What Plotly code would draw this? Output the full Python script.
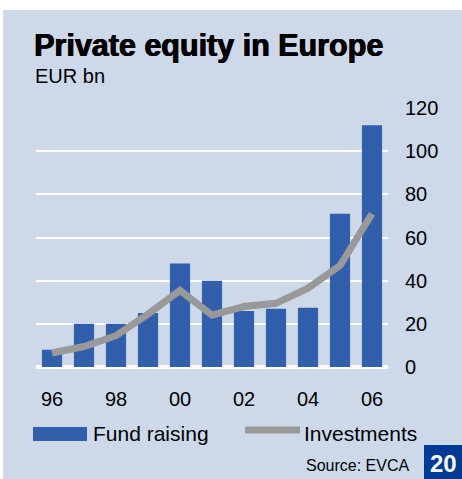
import plotly.graph_objects as go

# Data (EUR bn)
years = [1996, 1997, 1998, 1999, 2000, 2001, 2002, 2003, 2004, 2005, 2006]
fund_raising = [8, 20, 20, 25, 48, 40, 26, 27, 27.5, 71, 112]
investments = [6.5, 9.5, 14.5, 24.5, 35.5, 24, 28, 29.5, 36.5, 47, 71]
x_tickvals = [1996, 1998, 2000, 2002, 2004, 2006]
x_ticktext = ["96", "98", "00", "02", "04", "06"]
y_tickvals = [0, 20, 40, 60, 80, 100, 120]

W, H = 462, 479
L, R, T, B = 36, 388, 108, 367  # plot area in pixels

BG = "#CDD8E9"
BLUE = "#315FAB"
GREY = "#999999"
NAVY = "#003A94"
FONT = "Liberation Sans, Arial, sans-serif"


def px(x):
    return (x - L) / (R - L)


def py(y):
    return (B - y) / (B - T)


fig = go.Figure()
fig.add_trace(go.Bar(x=years, y=fund_raising, marker_color=BLUE,
                     marker_line_width=0, width=0.63, name="Fund raising"))
fig.add_trace(go.Scatter(x=years, y=investments, mode="lines",
                         line=dict(color=GREY, width=7), name="Investments"))

shapes = [
    # panel background
    dict(type="rect", xref="paper", yref="paper", layer="below",
         x0=px(3), x1=px(W), y0=py(10), y1=py(H),
         fillcolor=BG, line_width=0),
    # legend: bar swatch
    dict(type="rect", xref="paper", yref="paper",
         x0=px(33), x1=px(87), y0=py(427), y1=py(441),
         fillcolor=BLUE, line_width=0),
    # legend: line swatch
    dict(type="line", xref="paper", yref="paper",
         x0=px(245), x1=px(300), y0=py(430), y1=py(430),
         line=dict(color=GREY, width=7)),
    # page number box
    dict(type="rect", xref="paper", yref="paper",
         x0=px(424), x1=px(W), y0=py(445), y1=py(H),
         fillcolor=NAVY, line_width=0),
]

heavy = "0.7px 0 0 black, -0.3px 0 0 black"
annotations = [
    dict(text="<b>Private equity in Europe</b>", x=px(32), y=py(45),
         font=dict(size=30.5, color="black", family=FONT, shadow=heavy)),
    dict(text="EUR bn", x=px(33), y=py(76),
         font=dict(size=20, color="black", family=FONT)),
    dict(text="Fund raising", x=px(91), y=py(433),
         font=dict(size=21, color="black", family=FONT)),
    dict(text="Investments", x=px(302), y=py(433),
         font=dict(size=21, color="black", family=FONT)),
    dict(text="Source: EVCA", x=px(411), y=py(465), xanchor="right",
         font=dict(size=16, color="black", family=FONT)),
    dict(text="<b>20</b>", x=px(443), y=py(463), xanchor="center",
         font=dict(size=24, color="white", family=FONT)),
]
for a in annotations:
    a.setdefault("xanchor", "left")
    a.update(xref="paper", yref="paper", yanchor="middle",
             showarrow=False)

fig.update_layout(
    width=W, height=H,
    margin=dict(l=L, r=W - R, t=T, b=H - B, pad=0),
    paper_bgcolor="white", plot_bgcolor=BG,
    showlegend=False, bargap=0.37,
    shapes=shapes, annotations=annotations,
    font=dict(family=FONT, size=20, color="black"),
)
fig.update_xaxes(range=[1995.5, 2006.5], tickvals=x_tickvals,
                 ticktext=x_ticktext, showgrid=False, zeroline=False,
                 showline=False, ticks="", ticklabelstandoff=18,
                 tickfont=dict(size=20))
fig.update_yaxes(range=[0, 120], tickvals=y_tickvals, side="right",
                 showgrid=True, gridcolor="white", gridwidth=2,
                 zeroline=True, zerolinecolor="white", zerolinewidth=4,
                 showline=False, ticks="", ticklabelstandoff=16,
                 tickfont=dict(size=20))

fig.write_html("out.html")
